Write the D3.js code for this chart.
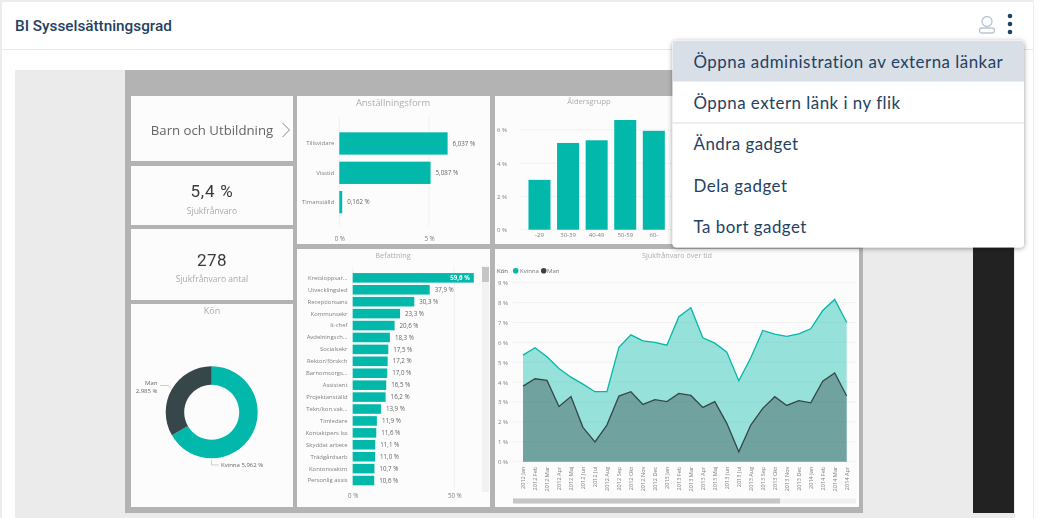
<!DOCTYPE html>
<html>
<head>
<meta charset="utf-8">
<script src="https://cdn.jsdelivr.net/npm/d3@7"></script>
<style>
  html, body { margin: 0; padding: 0; background: #fff; overflow: hidden; }
  svg { display: block; }
  text { font-family: "Open Sans", sans-serif; }
  #report { filter: blur(0.45px); }
  #report .domain { display: none; }
  #menu text { font-family: Lato, sans-serif; font-size: 16.9px; font-weight: 400; fill: #1f4263; letter-spacing: 0.49px; }
</style>
</head>
<body>
<svg id="chart" width="1041" height="518"></svg>
<script>
// Data
const employmentLabels = ["Tillsvidare", "Visstid", "Timanställd"];
const employmentValues = [6.037, 5.087, 0.162];

const jobLabels = ["Kretsloppsar...", "Utvecklingsled", "Receptionsans", "Kommunsekr", "It-chef", "Avdelningsch...", "Socialsekr", "Rektor/förskch", "Barnomsorgs...", "Assistent", "Projektanställd", "Tekn/kon.vak...", "Timledare", "Kontaktpers lss", "Skyddat arbete", "Trädgårdsarb", "Kontorsvaktm", "Personlig assis"];
const jobValues = [59.6, 37.9, 30.3, 23.3, 20.6, 18.3, 17.5, 17.2, 17.0, 16.5, 16.2, 13.9, 11.9, 11.6, 11.1, 11.0, 10.7, 10.6];

const ageLabels = ["-29", "30-39", "40-49", "50-59", "60-"];
const ageValues = [3.0, 5.22, 5.38, 6.6, 5.95];

const genderLabels = ["Kvinna", "Man"];
const genderValues = [5.962, 2.985];

const months = ["2012 Jan", "2012 Feb", "2012 Mar", "2012 Apr", "2012 Maj", "2012 Jun", "2012 Jul", "2012 Aug", "2012 Sep", "2012 Okt", "2012 Nov", "2012 Dec", "2013 Jan", "2013 Feb", "2013 Mar", "2013 Apr", "2013 Maj", "2013 Jun", "2013 Jul", "2013 Aug", "2013 Sep", "2013 Okt", "2013 Nov", "2013 Dec", "2014 Jan", "2014 Feb", "2014 Mar", "2014 Apr"];
const womenAbsence = [5.36, 5.73, 5.28, 4.69, 4.25, 3.9, 3.52, 3.52, 5.75, 6.38, 6.08, 6.0, 5.86, 7.29, 7.74, 6.23, 5.96, 5.51, 4.07, 5.23, 6.6, 6.42, 6.3, 6.43, 6.68, 7.6, 8.16, 7.0];
const menAbsence = [3.8, 4.17, 4.09, 2.78, 3.28, 1.73, 1.0, 1.84, 3.3, 3.52, 2.88, 3.12, 3.02, 3.43, 3.33, 2.73, 3.02, 1.93, 0.5, 1.84, 2.68, 3.27, 2.83, 3.07, 2.96, 4.05, 4.46, 3.3];

const menuItems = ["Öppna administration av externa länkar", "Öppna extern länk i ny flik", "Ändra gadget", "Dela gadget", "Ta bort gadget"];

// Colors
const teal = "#01B8AA";
const dark = "#374649";
const tileFill = "#fcfcfc";
const titleColor = "#adadad";
const labelColor = "#808080";
const gridColor = "#f1f1f1";

const svg = d3.select("#chart");
const pct = (v, d) => d3.format("." + d + "f")(v).replace(".", ",") + " %";

// Helpers
function box(parent, x, y, w, h, fill) {
  return parent.append("rect").attr("x", x).attr("y", y).attr("width", w).attr("height", h).attr("fill", fill);
}
function label(parent, x, y, txt, size, fill, anchor) {
  return parent.append("text").attr("x", x).attr("y", y).attr("dy", "0.35em")
    .attr("text-anchor", anchor || "middle").attr("font-size", size).attr("fill", fill).text(txt);
}
function styleAxis(g, size) {
  g.selectAll("text").attr("font-size", size).attr("fill", labelColor);
  g.selectAll(".tick line").attr("stroke", gridColor);
}

// Page card and header
box(svg, 0, 0, 1041, 518, "#fff");
box(svg, 0, 0, 1034, 2, "#ececec");
box(svg, 0, 0, 2, 518, "#ececec");
box(svg, 1033, 0, 1, 518, "#ececec");
box(svg, 2, 49, 1031, 1, "#e8e8e8");
svg.append("text").attr("x", 15).attr("y", 31).attr("font-size", 15.3).attr("font-weight", 500)
  .style("font-family", "Roboto, sans-serif").attr("fill", "#1f4263").text("BI Sysselsättningsgrad");

// User icon and dots
const icon = svg.append("g").attr("fill", "none").attr("stroke", "#b9c6d3").attr("stroke-width", 1.3);
icon.append("circle").attr("cx", 987).attr("cy", 21.5).attr("r", 5);
icon.append("rect").attr("x", 979.5).attr("y", 28).attr("width", 15).attr("height", 5).attr("rx", 2.5);
svg.selectAll(".dot").data([16, 24, 32]).enter().append("circle")
  .attr("cx", 1010).attr("cy", d => d).attr("r", 2.3).attr("fill", "#1f4263");

// Report background
box(svg, 15, 70, 1000, 448, "#ebebeb");
box(svg, 973, 96, 41, 417, "#222");

const report = svg.append("g").attr("id", "report");
box(report, 125, 70, 738, 443, "#b3b3b3");

// Tiles
[[131, 96, 162, 65], [131, 166, 162, 59], [131, 229, 162, 71], [131, 304, 162, 203],
 [297, 96, 193, 148], [297, 249, 193, 258], [495, 96, 190, 148], [495, 249, 364, 258]]
  .forEach(t => box(report, t[0], t[1], t[2], t[3], tileFill));

// Cards
label(report, 212, 130, "Barn och Utbildning", 13.2, "#666");
report.append("path").attr("d", "M282.5 123 L289.5 130 L282.5 137").attr("fill", "none").attr("stroke", "#888").attr("stroke-width", 1);
label(report, 212, 191, "5,4 %", 17, "#3a3a3a").style("font-family", "Roboto, sans-serif").style("letter-spacing", "0.8px");
label(report, 212, 211, "Sjukfrånvaro", 8.5, "#aaa");
label(report, 212, 260, "278", 17, "#3a3a3a").style("font-family", "Roboto, sans-serif").style("letter-spacing", "0.4px");
label(report, 212, 279, "Sjukfrånvaro antal", 8.5, "#aaa");

// Titles
label(report, 212, 311, "Kön", 9, titleColor);
label(report, 393, 103, "Anställningsform", 9.4, titleColor);
label(report, 393, 255, "Befattning", 7.3, titleColor);
label(report, 589, 101, "Åldersgrupp", 7.6, titleColor);
label(report, 677, 255, "Sjukfrånvaro över tid", 7.2, titleColor);

// Anställningsform bars
const empX = d3.scaleLinear().domain([0, 5]).range([339.3, 429]);
const empY = d3.scaleBand().domain(employmentLabels).range([125.3, 220.3]).padding(0.24);
const empAxis = report.append("g").attr("transform", "translate(0,232)")
  .call(d3.axisBottom(empX).tickValues([0, 5]).tickSize(0).tickPadding(5).tickFormat(d => d + " %"));
styleAxis(empAxis, 6.2);
report.selectAll(".emp-grid").data([0, 5]).enter().append("line")
  .attr("x1", d => empX(d)).attr("x2", d => empX(d)).attr("y1", 116).attr("y2", 226).attr("stroke", gridColor);
const empYAxis = report.append("g").attr("transform", "translate(339.3,0)")
  .call(d3.axisLeft(empY).tickSize(0).tickPadding(5));
styleAxis(empYAxis, 6);
report.selectAll(".emp").data(employmentValues).enter().append("rect")
  .attr("x", empX(0)).attr("y", (d, i) => empY(employmentLabels[i]))
  .attr("width", d => empX(d) - empX(0)).attr("height", empY.bandwidth()).attr("fill", teal);
report.selectAll(".emp-label").data(employmentValues).enter().append("text")
  .attr("x", d => empX(d) + 5).attr("y", (d, i) => empY(employmentLabels[i]) + empY.bandwidth() / 2)
  .attr("dy", "0.35em").attr("font-size", 6.2).attr("fill", "#666").text(d => pct(d, 3));

// Befattning bars
const jobX = d3.scaleLinear().domain([0, 50]).range([352.7, 454.3]);
const jobY = d3.scaleBand().domain(jobLabels).range([270.7, 487.7]).padding(0.2);
box(report, 482, 266, 7, 226, "#f2f2f2");
box(report, 482, 267, 7, 15, "#c6c6c6");
report.selectAll(".job-grid").data([0, 50]).enter().append("line")
  .attr("x1", d => jobX(d)).attr("x2", d => jobX(d)).attr("y1", 267).attr("y2", 490).attr("stroke", gridColor);
const jobAxis = report.append("g").attr("transform", "translate(0,491)")
  .call(d3.axisBottom(jobX).tickValues([0, 50]).tickSize(0).tickPadding(3).tickFormat(d => d + " %"));
styleAxis(jobAxis, 6.2);
const jobYAxis = report.append("g").attr("transform", "translate(347.5,0)")
  .call(d3.axisLeft(jobY).tickSize(0).tickPadding(0));
styleAxis(jobYAxis, 5.9);
report.selectAll(".job").data(jobValues).enter().append("rect")
  .attr("x", jobX(0)).attr("y", (d, i) => jobY(jobLabels[i]))
  .attr("width", d => jobX(d) - jobX(0)).attr("height", jobY.bandwidth()).attr("fill", teal);
report.selectAll(".job-label").data(jobValues).enter().append("text")
  .attr("x", (d, i) => i === 0 ? jobX(d) - 4 : jobX(d) + 5)
  .attr("y", (d, i) => jobY(jobLabels[i]) + jobY.bandwidth() / 2).attr("dy", "0.35em")
  .attr("text-anchor", (d, i) => i === 0 ? "end" : "start")
  .attr("font-size", 6.2).attr("font-weight", (d, i) => i === 0 ? 700 : 400)
  .attr("fill", (d, i) => i === 0 ? "#fff" : "#666").text(d => pct(d, 1));

// Åldersgrupp columns
const ageX = d3.scaleBand().domain(ageLabels).range([521.9, 671.4]).padding(0.23);
const ageY = d3.scaleLinear().domain([0, 6]).range([229.7, 130]);
const ageYAxis = report.append("g").attr("transform", "translate(512,0)")
  .call(d3.axisRight(ageY).tickValues([0, 2, 4, 6]).tickSize(0).tickPadding(-5).tickFormat(d => d + " %"));
styleAxis(ageYAxis, 6);
ageYAxis.selectAll("text").attr("text-anchor", "end");
report.selectAll(".age-grid").data([0, 2, 4, 6]).enter().append("line")
  .attr("x1", 521).attr("x2", 672).attr("y1", d => ageY(d)).attr("y2", d => ageY(d)).attr("stroke", gridColor);
const ageXAxis = report.append("g").attr("transform", "translate(0,229.7)")
  .call(d3.axisBottom(ageX).tickSize(0).tickPadding(3));
styleAxis(ageXAxis, 6);
report.selectAll(".age").data(ageValues).enter().append("rect")
  .attr("x", (d, i) => ageX(ageLabels[i])).attr("y", d => ageY(d))
  .attr("width", ageX.bandwidth()).attr("height", d => ageY(0) - ageY(d)).attr("fill", teal);

// Kön donut
const arc = d3.arc().innerRadius(27.5).outerRadius(46);
const pie = d3.pie().sort(null);
const donut = report.append("g").attr("transform", "translate(211.7,412.3)");
donut.selectAll("path").data(pie(genderValues)).enter().append("path")
  .attr("d", arc).attr("fill", (d, i) => i === 0 ? teal : dark);
report.append("path").attr("d", "M160 385.5 H168 L171 388").attr("fill", "none").attr("stroke", "#bbb").attr("stroke-width", 0.7);
report.append("path").attr("d", "M211.5 460 V465 H219").attr("fill", "none").attr("stroke", "#bbb").attr("stroke-width", 0.7);
label(report, 157.5, 383, genderLabels[1], 6, "#666", "end");
label(report, 157.5, 390.5, pct(genderValues[1], 3), 6, "#666", "end");
label(report, 221, 465, genderLabels[0] + " " + pct(genderValues[0], 3), 6, "#666", "start");

// Sjukfrånvaro över tid
const timeX = d3.scalePoint().domain(months).range([523, 846.7]);
const timeY = d3.scaleLinear().domain([0, 9]).range([461.7, 282.7]);
const yTicks = d3.range(0, 10);
report.selectAll(".time-grid").data(yTicks).enter().append("line")
  .attr("x1", 513).attr("x2", 856).attr("y1", d => timeY(d)).attr("y2", d => timeY(d)).attr("stroke", gridColor);
const timeYAxis = report.append("g").attr("transform", "translate(513,0)")
  .call(d3.axisLeft(timeY).tickValues(yTicks).tickSize(0).tickPadding(5).tickFormat(d => d + " %"));
styleAxis(timeYAxis, 6);
const timeXAxis = report.append("g").attr("transform", "translate(0,461.7)")
  .call(d3.axisBottom(timeX).tickSize(0));
styleAxis(timeXAxis, 5.6);
timeXAxis.selectAll("text").attr("transform", "rotate(-90)").attr("text-anchor", "end")
  .attr("x", -5).attr("y", 0).attr("dy", "0.35em");

const area = d3.area().x((d, i) => timeX(months[i])).y0(timeY(0)).y1(d => timeY(d));
const line = d3.line().x((d, i) => timeX(months[i])).y(d => timeY(d));
[[womenAbsence, teal], [menAbsence, dark]].forEach(s => {
  report.append("path").attr("d", area(s[0])).attr("fill", s[1]).attr("fill-opacity", 0.4);
  report.append("path").attr("d", line(s[0])).attr("fill", "none").attr("stroke", s[1]).attr("stroke-width", 1.3);
});

// Legend
label(report, 497, 270.7, "Kön", 6, "#555", "start");
report.append("circle").attr("cx", 515.7).attr("cy", 270.7).attr("r", 2.8).attr("fill", teal);
label(report, 520, 270.7, genderLabels[0], 6, "#777", "start");
report.append("circle").attr("cx", 543.7).attr("cy", 270.7).attr("r", 2.8).attr("fill", dark);
label(report, 547, 270.7, genderLabels[1], 6, "#777", "start");

// Time chart scrollbar
box(report, 513, 498.5, 343, 5, "#f0f0f0");
box(report, 513, 498.5, 267, 5, "#c6c6c6");

// Dropdown menu
const defs = svg.append("defs");
const shadow = defs.append("filter").attr("id", "shadow").attr("x", "-5%").attr("y", "-10%").attr("width", "110%").attr("height", "120%");
shadow.append("feDropShadow").attr("dx", 0).attr("dy", 1).attr("stdDeviation", 2.5).attr("flood-color", "#000").attr("flood-opacity", 0.4);
defs.append("clipPath").attr("id", "menu-clip").append("rect")
  .attr("x", 672.5).attr("y", 40.5).attr("width", 351.5).attr("height", 207).attr("rx", 4);

const menu = svg.append("g").attr("id", "menu");
menu.append("rect").attr("x", 672.5).attr("y", 40.5).attr("width", 351.5).attr("height", 207).attr("rx", 4)
  .attr("fill", "#fff").attr("filter", "url(#shadow)");
box(menu.append("g").attr("clip-path", "url(#menu-clip)"), 672.5, 40.5, 351.5, 41, "#d9dfe6");
box(menu, 672.5, 122.5, 351.5, 1, "#d9dde2");
const menuY = d3.scalePoint().domain(menuItems).range([62, 227]);
menu.selectAll(".item").data(menuItems).enter().append("text")
  .attr("x", 693.5).attr("y", d => menuY(d)).attr("dy", "0.35em").text(d => d);
</script>
</body>
</html>
